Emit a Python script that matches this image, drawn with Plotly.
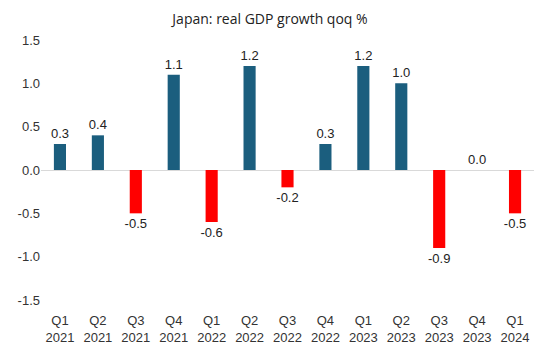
import plotly.graph_objects as go

quarters = ["Q1<br>2021", "Q2<br>2021", "Q3<br>2021", "Q4<br>2021", "Q1<br>2022", "Q2<br>2022",
            "Q3<br>2022", "Q4<br>2022", "Q1<br>2023", "Q2<br>2023", "Q3<br>2023", "Q4<br>2023", "Q1<br>2024"]
growth = [0.3, 0.4, -0.5, 1.1, -0.6, 1.2, -0.2, 0.3, 1.2, 1.0, -0.9, 0.0, -0.5]
y_ticks = [-1.5, -1.0, -0.5, 0.0, 0.5, 1.0, 1.5]

colors = ["#1B5E7E" if v >= 0 else "#FF0000" for v in growth]
labels = [f"{v:.1f}" for v in growth]

fig = go.Figure(go.Bar(
    x=quarters, y=growth, marker=dict(color=colors, line=dict(width=0)),
    text=labels, textposition="outside", cliponaxis=False, constraintext="none",
    textfont=dict(family="Liberation Sans, Arial", size=13, color="#222222"),
    width=0.32,
))

fig.update_layout(
    width=540, height=351,
    margin=dict(l=41, r=6, t=40, b=51),
    paper_bgcolor="white", plot_bgcolor="white",
    title=dict(text="Japan: real GDP growth qoq %", x=0.5, xanchor="center", y=0.947, yanchor="middle",
               font=dict(family="Open Sans, Lato", size=14, color="#222222")),
    showlegend=False,
    font=dict(family="Liberation Sans, Arial", size=13, color="#333333"),
)
fig.update_xaxes(showgrid=False, showline=False, ticks="", ticklabelstandoff=11,
                 tickfont=dict(size=13, color="#333333"))
fig.update_yaxes(range=[-1.5, 1.5], tickvals=y_ticks, ticktext=[f"{t:.1f}" for t in y_ticks],
                 showgrid=False, zeroline=True, zerolinecolor="#D9D9D9", zerolinewidth=1,
                 showline=False, ticks="", tickfont=dict(size=13, color="#333333"))

fig.write_html("out.html")
